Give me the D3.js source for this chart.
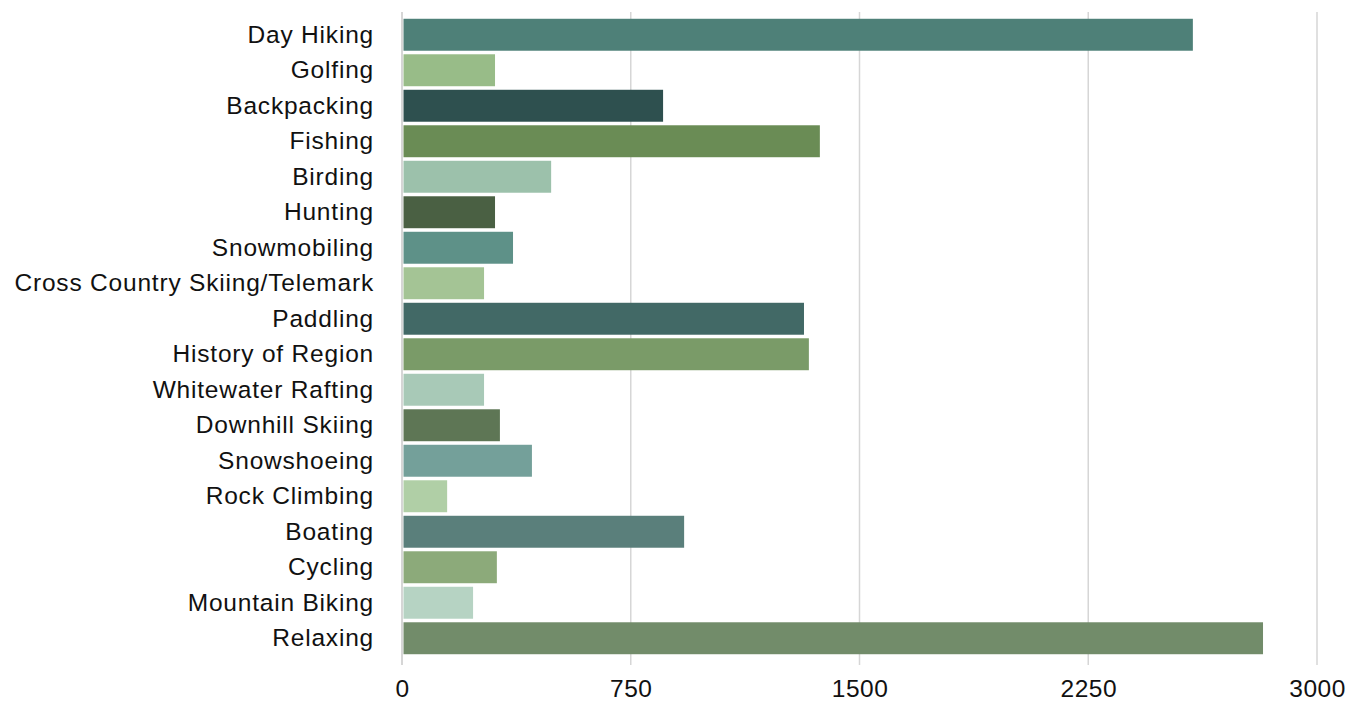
<!DOCTYPE html>
<html>
<head>
<meta charset="utf-8">
<script src="https://cdn.jsdelivr.net/npm/d3@7"></script>
<style>
  body { margin: 0; background: #fff; }
  text { font-family: "Liberation Sans", Arial, Helvetica, sans-serif; fill: #111; }
</style>
</head>
<body>
<div id="container"></div>
<script>
const WIDTH = 1367,
  HEIGHT = 705;

const activities = ["Day Hiking", "Golfing", "Backpacking", "Fishing", "Birding", "Hunting",
  "Snowmobiling", "Cross Country Skiing/Telemark", "Paddling", "History of Region",
  "Whitewater Rafting", "Downhill Skiing", "Snowshoeing", "Rock Climbing", "Boating",
  "Cycling", "Mountain Biking", "Relaxing"];

const counts = [2593, 305, 856, 1370, 489, 305, 364, 269, 1318, 1334,
  269, 321, 426, 148, 925, 311, 233, 2823];

const barColors = ["#4e8078", "#98bc88", "#2e504f", "#6a8c55", "#9cc1ab", "#4a6043",
  "#5e9188", "#a4c495", "#426966", "#7a9b68", "#a8c9b7", "#5e7655",
  "#74a09a", "#b0cfa6", "#5a7f7b", "#8caa7a", "#b6d3c3", "#728c6a"];

const xTicks = [0, 750, 1500, 2250, 3000];

const data = activities.map((a, i) => ({ name: a, value: counts[i], color: barColors[i] }));

const svg = d3.select("#container")
  .append("svg")
  .attr("width", WIDTH)
  .attr("height", HEIGHT)

// Scales
const xScale = d3.scaleLinear()
  .domain([0, 3000])
  .range([402, 1317])

const yScale = d3.scaleBand()
  .domain(activities)
  .range([17, 656])
  .paddingInner(0.1)
  .paddingOuter(0.05)

// grid lines
svg.append("g")
  .attr("class", "grid")
  .selectAll("line")
  .data(xTicks)
  .join("line")
  .attr("x1", d => xScale(d))
  .attr("x2", d => xScale(d))
  .attr("y1", 12)
  .attr("y2", 665)
  .attr("stroke", d => d === 0 ? "#c8c8c8" : "#d6d6d6")
  .attr("stroke-width", 1.5)

// bars
svg.selectAll(".bar")
  .data(data)
  .join("rect")
  .attr("class", "bar")
  .attr("x", xScale(0) + 1.5)
  .attr("y", d => yScale(d.name))
  .attr("width", d => xScale(d.value) - xScale(0) - 1.5)
  .attr("height", yScale.bandwidth())
  .attr("fill", d => d.color)

// x axis
const xAxis = svg.append("g")
  .attr("class", "x-axis")
  .attr("transform", "translate(0, 665)")
  .call(d3.axisBottom(xScale).tickValues(xTicks).tickFormat(d3.format("d")).tickSize(0).tickPadding(14.5))
xAxis.select(".domain").remove()
xAxis.selectAll("text")
  .style("font-size", "24.5px")
  .style("letter-spacing", "0.5px")
  .attr("fill", "#111")

// y axis
const yAxis = svg.append("g")
  .attr("class", "y-axis")
  .attr("transform", "translate(374, 0)")
  .call(d3.axisLeft(yScale).tickSize(0).tickPadding(0))
yAxis.select(".domain").remove()
yAxis.selectAll("text")
  .style("font-size", "24.5px")
  .style("letter-spacing", "0.8px")
  .attr("fill", "#111")
</script>
</body>
</html>
